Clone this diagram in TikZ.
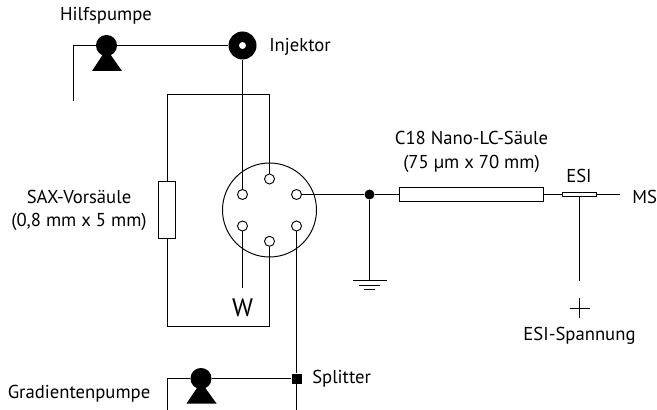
\documentclass[tikz,border=0pt]{standalone}
\usepackage{fontspec}
\setmainfont{PT Sans}
\usetikzlibrary{calc}
\begin{document}
\begin{tikzpicture}[x=0.75pt,y=-0.75pt,
  line/.style={line width=0.72pt,black},
  lab/.style={inner sep=0pt,font=\fontsize{14pt}{17.7pt}\selectfont,align=center},
  port/.style={circle,draw,line width=0.7pt,fill=white,minimum size=7.5pt,inner sep=0pt},
  pumphead/.style={circle,fill=black,minimum size=15.8pt,inner sep=0pt},
  pumpfoot/.style={fill=black},
  column/.style={draw,line width=0.72pt,fill=white,inner sep=0pt}]
\useasboundingbox (0,0) rectangle (657,410);
% named end points
\coordinate (hpend) at (73.5,101);
\coordinate (hpcorner) at (73.5,45.5);
\coordinate (loopTL) at (167.5,94.5);
\coordinate (loopTR) at (269.5,94.5);
\coordinate (loopBL) at (167.5,326.5);
\coordinate (loopBR) at (269.5,326.5);
\coordinate (wend) at (242.5,288);
\coordinate (splitend) at (296.5,410);
\coordinate (gpcorner) at (167.5,378.5);
\coordinate (gpend) at (167.5,410);
\coordinate (msend) at (620,194.5);
\coordinate (gnd) at (369.5,280.5);
\coordinate (hvend) at (579.5,281);
% valve
\node[circle,draw,line width=0.72pt,minimum size=70.5pt,inner sep=0pt] (valve) at (269.5,210) {};
% symbols
\node[circle,fill=black,minimum size=21pt,inner sep=0pt] (inj) at (242.5,45.5) {};
\node[pumphead] (hp) at (106.5,45.5) {};
\node[pumphead] (gp) at (201,378.5) {};
\node[fill=black,minimum size=7.5pt,inner sep=0pt] (split) at (296.5,378.5) {};
\node[circle,fill=black,minimum size=7.5pt,inner sep=0pt] (tee) at (369.5,194.5) {};
\node[port] (p1) at (269.5,179) {};
\node[port] (p2) at (296.5,194.5) {};
\node[port] (p3) at (296.5,226) {};
\node[port] (p4) at (269.5,241.3) {};
\node[port] (p5) at (242.5,226) {};
\node[port] (p6) at (242.5,194.5) {};
\node[column,minimum width=12.6pt,minimum height=42.5pt] (sax) at (167,210) {};
\node[column,minimum width=108pt,minimum height=10.2pt] (c18) at (471.5,194.5) {};
\node[column,minimum width=25.8pt,minimum height=2.8pt] (esi) at (579.5,194.5) {};
% connectors
\draw[line] (hpend) -- (hpcorner) -- (hp) -- (inj);
\draw[line] (inj) -- (p6);
\draw[line] (p1) -- (loopTR) -- (loopTL) -- (loopTL |- sax.north);
\draw[line] (loopBL |- sax.south) -- (loopBL) -- (loopBR) -- (p4);
\draw[line] (p5) -- (wend);
\draw[line] (p3) -- (split) -- (splitend);
\draw[line] (gpend) -- (gpcorner) -- (gp) -- (split);
\draw[line] (p2) -- (tee) -- (c18) -- (esi) -- (msend);
\draw[line] (tee) -- (gnd);
\draw[line] (esi) -- (hvend);
% pump feet
\fill[pumpfoot] (106.5,49) -- (122,71) -- (92,71) -- cycle;
\fill[pumpfoot] (201,382) -- (216.5,403.5) -- (186.5,403.5) -- cycle;
% injector centre
\node[circle,fill=white,minimum size=5.2pt,inner sep=0pt] (injc) at (242.5,45.5) {};
% ground
\draw[line] ($(gnd)+(-16.5,0)$) -- ($(gnd)+(17,0)$);
\draw[line] ($(gnd)+(-11,5)$) -- ($(gnd)+(10,5)$);
\draw[line] ($(gnd)+(-5.5,9)$) -- ($(gnd)+(5.5,9)$);
% plus
\draw[line width=1pt] (569.5,308.5) -- (589.5,308.5);
\draw[line width=1pt] (579.5,298) -- (579.5,318);
% labels
\node[lab] (t1) at (106,16) {Hilfspumpe};
\node[lab,anchor=west] (t2) at (269,47) {Injektor};
\node[lab] (t3) at (79,210.5) {SAX-Vorsäule\\(0,8 mm x 5 mm)};
\node[lab] (t4) at (471.5,152) {C18 Nano-LC-Säule\\(75 µm x 70 mm)};
\node[lab] (t5) at (579,176) {ESI};
\node[lab,anchor=west] (t6) at (632,197) {MS};
\node[lab] (t7) at (579.5,336) {ESI-Spannung};
\node[lab,anchor=west] (t8) at (312,379) {Splitter};
\node[lab] (t9) at (79,394) {Gradientenpumpe};
\node[inner sep=0pt,font=\fontsize{19pt}{19pt}\selectfont] (t10) at (242.5,308) {W};
\end{tikzpicture}
\end{document}
